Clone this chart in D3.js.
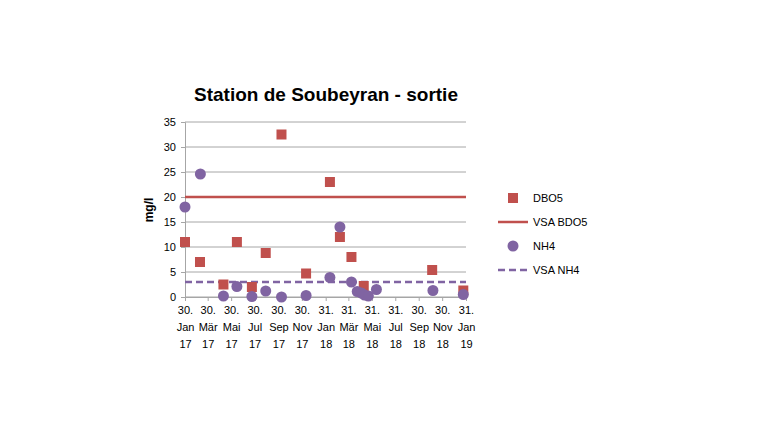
<!DOCTYPE html>
<html><head><meta charset="utf-8">
<script src="https://cdn.jsdelivr.net/npm/d3@7"></script>
<style>body{margin:0;background:#fff;font-family:"Liberation Sans",Arial,sans-serif;}</style>
</head><body>
<script>
(function(){
    //data
    var dboDates = ["2017-01-30","2017-03-10","2017-05-10","2017-06-14","2017-07-23","2017-08-28","2017-10-08","2017-12-11","2018-02-11","2018-03-09","2018-04-08","2018-05-10","2018-11-04","2019-01-24"];
    var dboValues = [11,7,2.5,11,2,8.8,32.5,4.7,23,12,8,2.2,5.4,1.3];
    var nhDates = ["2017-01-30","2017-03-11","2017-05-10","2017-06-14","2017-07-23","2017-08-28","2017-10-08","2017-12-11","2018-02-11","2018-03-09","2018-04-08","2018-04-23","2018-05-04","2018-05-12","2018-05-22","2018-06-12","2018-11-06","2019-01-24"];
    var nhValues = [18,24.6,0.2,2.1,0.1,1.2,0,0.3,3.9,14,3,1.1,0.8,0.4,0.2,1.5,1.3,0.5];
    var vsaBdo5 = 20, vsaNh4 = 3;
    var tickDates = ["2017-01-30","2017-03-30","2017-05-30","2017-07-30","2017-09-30","2017-11-30","2018-01-31","2018-03-31","2018-05-31","2018-07-31","2018-09-30","2018-11-30","2019-01-31"];
    var monthNames = ["Jan","Feb","Mär","Apr","Mai","Jun","Jul","Aug","Sep","Okt","Nov","Dez"];
    var yTicks = [0,5,10,15,20,25,30,35];
    var legendItems = ["DBO5","VSA BDO5","NH4","VSA NH4"];

    var red = "#c0504d", purple = "#8064a2";
    var parse = d3.timeParse("%Y-%m-%d");

    var svg = d3.select("body").append("svg").attr("width",760).attr("height",440);

    var x = d3.scaleTime().domain([parse(tickDates[0]), parse(tickDates[tickDates.length-1])]).range([185,466]);
    var y = d3.scaleLinear().domain([0,35]).range([297,122]);

    //gridlines
    svg.selectAll(".grid").data(yTicks).enter().append("line")
        .attr("x1",185).attr("x2",466)
        .attr("y1",function(d){return y(d);}).attr("y2",function(d){return y(d);})
        .attr("stroke","#a6a6a6").attr("stroke-width",1);

    //y axis
    var yAxis = svg.append("g").attr("transform","translate(185,0)")
        .call(d3.axisLeft(y).tickValues(yTicks).tickSize(4));
    yAxis.select(".domain").attr("stroke","#a6a6a6");
    yAxis.selectAll("line").attr("stroke","#a6a6a6");
    yAxis.selectAll("text").attr("font-size",11).attr("font-family","Liberation Sans,Arial").attr("fill","#000").attr("dx",-2);

    //x axis
    var xAxis = svg.append("g").attr("transform","translate(0,297)")
        .call(d3.axisBottom(x).tickValues(tickDates.map(parse)).tickSize(4).tickFormat(""));
    xAxis.select(".domain").attr("stroke","#a6a6a6");
    xAxis.selectAll("line").attr("stroke","#a6a6a6");
    xAxis.selectAll(".tick").each(function(d){
        var t = d3.select(this).append("text").attr("fill","#000").attr("font-size",11)
            .attr("font-family","Liberation Sans,Arial").attr("text-anchor","middle");
        var lines = [d.getDate()+".", monthNames[d.getMonth()], String(d.getFullYear()).slice(2)];
        lines.forEach(function(s,i){ t.append("tspan").attr("x",0).attr("y",17+i*17).text(s); });
    });

    //reference lines
    svg.append("line").attr("x1",185).attr("x2",466).attr("y1",y(vsaBdo5)).attr("y2",y(vsaBdo5))
        .attr("stroke",red).attr("stroke-width",2.5);
    svg.append("line").attr("x1",185).attr("x2",466).attr("y1",y(vsaNh4)).attr("y2",y(vsaNh4))
        .attr("stroke",purple).attr("stroke-width",2.5).attr("stroke-dasharray","7,4");

    //DBO5 squares
    svg.selectAll(".dbo").data(dboDates).enter().append("rect")
        .attr("x",function(d){return x(parse(d))-5;})
        .attr("y",function(d,i){return y(dboValues[i])-5;})
        .attr("width",10).attr("height",10).attr("fill",red);

    //NH4 circles
    svg.selectAll(".nh").data(nhDates).enter().append("circle")
        .attr("cx",function(d){return x(parse(d));})
        .attr("cy",function(d,i){return y(nhValues[i]);})
        .attr("r",5.5).attr("fill",purple);

    //title and y label
    svg.append("text").attr("x",326).attr("y",101).attr("text-anchor","middle")
        .attr("font-size",19).attr("font-weight","bold").text("Station de Soubeyran - sortie");
    svg.append("text").attr("transform","translate(153,210) rotate(-90)").attr("text-anchor","middle")
        .attr("font-size",12).attr("font-weight","bold").text("mg/l");

    //legend
    var lg = svg.selectAll(".lg").data(legendItems).enter().append("g")
        .attr("transform",function(d,i){return "translate(513,"+(198+i*24)+")";});
    lg.each(function(d,i){
        var g = d3.select(this);
        if(i==0) g.append("rect").attr("x",-5).attr("y",-5).attr("width",10).attr("height",10).attr("fill",red);
        if(i==1) g.append("line").attr("x1",-15).attr("x2",15).attr("stroke",red).attr("stroke-width",2.5);
        if(i==2) g.append("circle").attr("r",5.5).attr("fill",purple);
        if(i==3) g.append("line").attr("x1",-15).attr("x2",15).attr("stroke",purple).attr("stroke-width",2.5).attr("stroke-dasharray","7,4");
        g.append("text").attr("x",20).attr("y",4).attr("font-size",11).text(d);
    });
})();
</script>
</body></html>
